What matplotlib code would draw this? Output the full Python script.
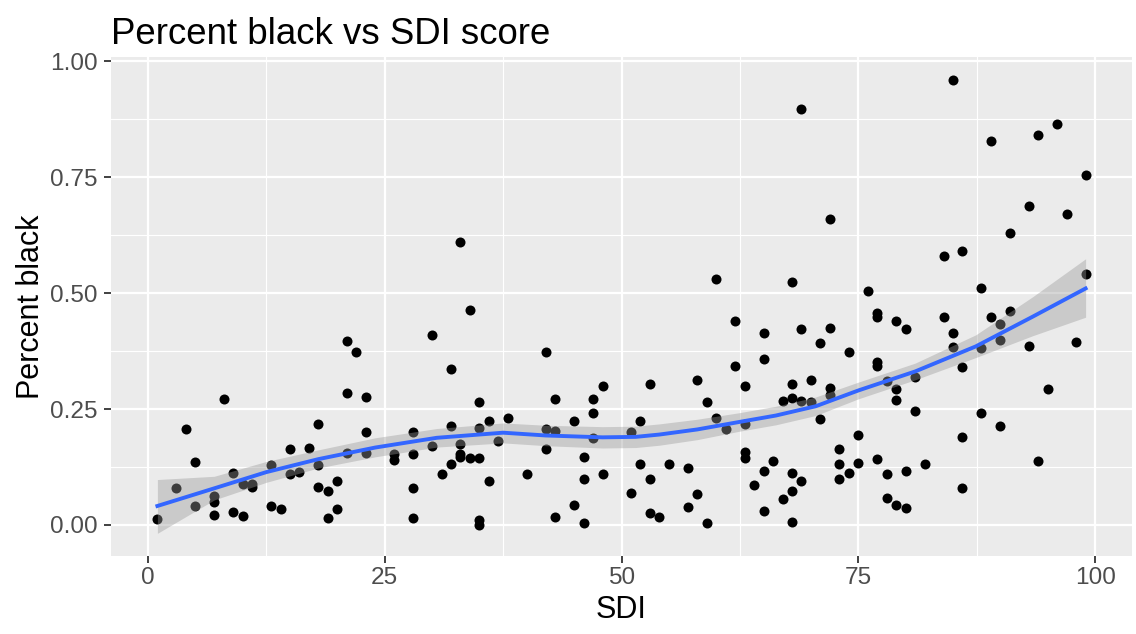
import numpy as np
import matplotlib
matplotlib.use('Agg')
import matplotlib.pyplot as plt

# SDI score and share of black residents
sdi = [1, 3, 4, 5, 5, 7, 7, 7, 8, 9, 9, 10, 10, 11, 11, 13, 13, 14, 15, 15,
       16, 17, 18, 18, 18, 19, 19, 20, 20, 21, 21, 21, 22, 23, 23, 23, 26, 26,
       28, 28, 28, 28, 30, 30, 31, 32, 32, 32, 33, 33, 33, 33, 34, 34, 35, 35,
       35, 35, 35, 36, 36, 37, 38, 40, 42, 42, 42, 43, 43, 43, 45, 45, 46, 46,
       46, 47, 47, 47, 48, 48, 51, 51, 52, 52, 53, 53, 53, 54, 55, 57, 57, 58,
       58, 59, 59, 60, 60, 61, 62, 62, 63, 63, 63, 63, 64, 65, 65, 65, 65, 66,
       67, 67, 68, 68, 68, 68, 68, 68, 69, 69, 69, 69, 70, 70, 71, 71, 72, 72,
       72, 72, 73, 73, 73, 74, 74, 75, 75, 76, 77, 77, 77, 77, 77, 78, 78, 78,
       79, 79, 79, 79, 80, 80, 80, 81, 81, 82, 84, 84, 85, 85, 85, 86, 86, 86,
       86, 88, 88, 88, 89, 89, 90, 90, 90, 91, 91, 93, 93, 94, 94, 95, 96, 97,
       98, 99, 99]
pct_black = [0.013, 0.080, 0.207, 0.135, 0.041, 0.063, 0.049, 0.022, 0.272,
             0.113, 0.027, 0.019, 0.088, 0.088, 0.082, 0.129, 0.041, 0.034,
             0.163, 0.109, 0.114, 0.167, 0.218, 0.130, 0.081, 0.074, 0.016,
             0.095, 0.034, 0.397, 0.285, 0.156, 0.373, 0.276, 0.200, 0.156,
             0.152, 0.140, 0.200, 0.152, 0.080, 0.016, 0.410, 0.170, 0.109,
             0.336, 0.213, 0.131, 0.610, 0.174, 0.152, 0.147, 0.464, 0.144,
             0.266, 0.210, 0.144, 0.011, 0.001, 0.224, 0.095, 0.181, 0.230,
             0.109, 0.373, 0.206, 0.163, 0.272, 0.202, 0.018, 0.224, 0.044,
             0.147, 0.100, 0.004, 0.272, 0.242, 0.188, 0.300, 0.109, 0.201,
             0.070, 0.224, 0.131, 0.303, 0.099, 0.026, 0.017, 0.131, 0.122,
             0.038, 0.312, 0.067, 0.265, 0.004, 0.530, 0.230, 0.206, 0.440,
             0.342, 0.300, 0.217, 0.157, 0.145, 0.086, 0.415, 0.358, 0.117,
             0.031, 0.138, 0.267, 0.056, 0.523, 0.304, 0.274, 0.113, 0.074,
             0.006, 0.897, 0.422, 0.268, 0.095, 0.312, 0.265, 0.392, 0.229,
             0.659, 0.425, 0.295, 0.281, 0.163, 0.131, 0.099, 0.373, 0.113,
             0.195, 0.134, 0.505, 0.457, 0.449, 0.351, 0.342, 0.142, 0.310,
             0.109, 0.058, 0.440, 0.293, 0.270, 0.044, 0.422, 0.117, 0.036,
             0.320, 0.245, 0.132, 0.581, 0.449, 0.960, 0.413, 0.383, 0.590,
             0.340, 0.190, 0.079, 0.511, 0.381, 0.242, 0.828, 0.449, 0.434,
             0.398, 0.213, 0.630, 0.462, 0.687, 0.386, 0.840, 0.138, 0.293,
             0.865, 0.670, 0.394, 0.755, 0.541]

# loess trend and its 95% band at these SDI values
smooth_x = [1, 7, 12.5, 18, 24, 30.5, 37.5, 42, 48, 51.5, 54, 58, 62.4,
            66.3, 70.5, 75, 81, 87.4, 93.4, 99]
smooth_fit = [0.041, 0.079, 0.114, 0.142, 0.167, 0.188, 0.199, 0.193, 0.189,
              0.190, 0.195, 0.206, 0.222, 0.236, 0.256, 0.290, 0.331, 0.385,
              0.449, 0.510]
smooth_lo = [-0.018, 0.054, 0.092, 0.123, 0.147, 0.168, 0.177, 0.171, 0.166,
             0.167, 0.172, 0.184, 0.202, 0.216, 0.236, 0.272, 0.313, 0.361,
             0.408, 0.448]
smooth_hi = [0.098, 0.105, 0.137, 0.162, 0.188, 0.208, 0.220, 0.215, 0.212,
             0.213, 0.218, 0.228, 0.242, 0.256, 0.276, 0.308, 0.349, 0.410,
             0.492, 0.574]

x = np.array(sdi, dtype=float)
y = np.array(pct_black)

fig = plt.figure(figsize=(11.36, 6.34), dpi=100)
ax = fig.add_axes([0.0977, 0.123, 0.8988, 0.787])
ax.set_facecolor('#EBEBEB')

ax.scatter(x, y, s=52, color='black', linewidths=0, zorder=3)
ax.fill_between(smooth_x, smooth_lo, smooth_hi, color='#999999', alpha=0.4,
                linewidth=0, zorder=4)
ax.plot(smooth_x, smooth_fit, color='#3366FF', linewidth=2.8, zorder=5,
        solid_joinstyle='round')

# ggplot style 5% expansion of the data range
xr = x.max() - x.min()
ax.set_xlim(x.min() - 0.05 * xr, x.max() + 0.05 * xr)
ymin = min(y.min(), min(smooth_lo))
ymax = max(y.max(), max(smooth_hi))
yr = ymax - ymin
ax.set_ylim(ymin - 0.05 * yr, ymax + 0.05 * yr)

ax.set_xticks([0, 25, 50, 75, 100])
ax.set_yticks([0, 0.25, 0.5, 0.75, 1.0])
ax.set_yticklabels(['0.00', '0.25', '0.50', '0.75', '1.00'])
ax.set_xticks([12.5, 37.5, 62.5, 87.5], minor=True)
ax.set_yticks([0.125, 0.375, 0.625, 0.875], minor=True)
ax.grid(which='major', color='white', linewidth=1.6)
ax.grid(which='minor', color='white', linewidth=0.8)
ax.set_axisbelow(True)
for sp in ax.spines.values():
    sp.set_visible(False)

ax.tick_params(which='major', length=5, width=1.3, color='#333333',
               labelsize=17.6, labelcolor='#4D4D4D')
ax.tick_params(axis='x', which='major', pad=3)
ax.tick_params(axis='y', which='major', pad=4.5)
ax.tick_params(which='minor', length=0)
for lab in ax.get_xticklabels() + ax.get_yticklabels():
    lab.set_family('Liberation Sans')

ax.set_xlabel('SDI', fontsize=22, family='Liberation Sans', labelpad=4)
ax.set_ylabel('Percent black', fontsize=22, family='Liberation Sans', labelpad=3)
ax.set_title('Percent black vs SDI score', loc='left', fontsize=26.4,
             family='Liberation Sans', pad=9.5)

fig.savefig('out.png', dpi=100)
